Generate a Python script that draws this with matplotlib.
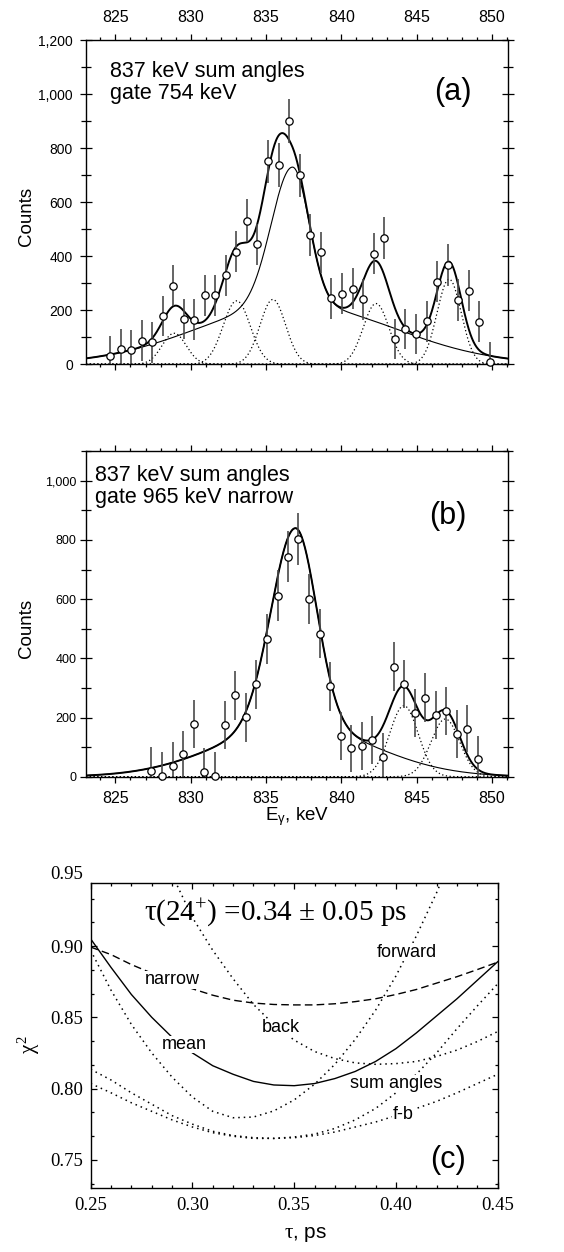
import numpy as np
import matplotlib
matplotlib.use("Agg")
import matplotlib.pyplot as plt
from matplotlib.ticker import MultipleLocator, FuncFormatter, FormatStrFormatter

plt.rcParams['font.family'] = ['Liberation Sans', 'DejaVu Sans']
plt.rcParams['mathtext.fontset'] = 'custom'
plt.rcParams['mathtext.rm'] = 'Liberation Serif'
plt.rcParams['mathtext.it'] = 'Liberation Serif'
plt.rcParams['mathtext.sf'] = 'Liberation Sans'
SERIF = ['Liberation Serif', 'DejaVu Serif']

# ---- (a) 837 keV sum angles, gate 754 keV
e_a = [824.65, 825.35, 826.04, 826.74, 827.44, 828.14, 828.84, 829.54, 830.23, 830.94,
       831.64, 832.34, 833.03, 833.72, 834.43, 835.12, 835.84, 836.53, 837.23, 837.93,
       838.63, 839.34, 840.04, 840.74, 841.44, 842.14, 842.85, 843.55, 844.25, 844.95,
       845.66, 846.36, 847.06, 847.76, 848.46, 849.16, 849.86]
cnt_a = [30, 57, 54, 88, 81, 178, 291, 167, 165, 255, 256, 329, 417, 532, 444, 751, 738,
         900, 700, 478, 414, 245, 262, 280, 241, 410, 469, 94, 129, 112, 159, 305, 367,
         238, 272, 158, 10]
err_a = [73, 74, 74, 75, 75, 75, 76, 75, 75, 76, 76, 76, 77, 78, 77, 80, 80, 81, 80, 78,
         77, 76, 76, 76, 76, 77, 78, 74, 74, 74, 75, 76, 77, 76, 76, 75, 72]
core_a = [836.75, 510, 1.4, 1.1]      # centre, height, sigma low side, sigma high side
broad_a = [837.0, 220, 6.5]           # centre, height, sigma
pk_a_pos = [828.9, 833.05, 835.45, 842.3, 847.15]
pk_a_amp = [115, 235, 240, 225, 315]
pk_a_sig = [0.8, 0.9, 0.85, 0.85, 0.8]

# ---- (b) 837 keV sum angles, gate 965 keV narrow
e_b = [827.39, 828.09, 828.80, 829.50, 830.21, 830.91, 831.62, 832.28, 832.97, 833.67,
       834.36, 835.06, 835.76, 836.46, 837.15, 837.86, 838.56, 839.27, 839.96, 840.66,
       841.36, 842.06, 842.77, 843.46, 844.16, 844.86, 845.56, 846.26, 846.96, 847.66,
       848.36, 849.04]
cnt_b = [19, 3, 36, 76, 179, 17, 3, 175, 276, 201, 312, 466, 612, 744, 804, 601, 484, 306,
         138, 96, 104, 123, 68, 372, 313, 215, 267, 210, 222, 144, 163, 59]
err_b = [80, 79, 80, 80, 82, 80, 79, 82, 83, 82, 83, 84, 85, 86, 87, 85, 84, 83, 81, 80,
         80, 81, 80, 83, 82, 81, 82, 81, 81, 80, 80, 79]
core_b = [836.95, 668, 1.6, 1.4]
broad_b = [836.95, 172, 5.1]
pk_b_pos = [844.15, 846.9]
pk_b_amp = [240, 195]
pk_b_sig = [0.95, 0.95]

# ---- (c) chi^2 versus tau
tau = [0.25, 0.26, 0.27, 0.28, 0.29, 0.30, 0.31, 0.32, 0.33, 0.34, 0.35,
       0.36, 0.37, 0.38, 0.39, 0.40, 0.41, 0.42, 0.43, 0.44, 0.45]
chi_mean = [0.905, 0.885, 0.866, 0.850, 0.836, 0.825, 0.816, 0.810, 0.805, 0.8025, 0.802,
            0.8035, 0.807, 0.812, 0.819, 0.828, 0.839, 0.851, 0.863, 0.876, 0.889]
chi_narrow = [0.8993, 0.894, 0.887, 0.881, 0.875, 0.870, 0.8655, 0.862, 0.860, 0.859, 0.8587,
              0.8587, 0.8595, 0.861, 0.863, 0.866, 0.8695, 0.874, 0.8785, 0.8835, 0.8887]
chi_sum = [0.8135, 0.806, 0.797, 0.789, 0.781, 0.775, 0.770, 0.767, 0.7655, 0.765, 0.766,
           0.768, 0.772, 0.778, 0.786, 0.797, 0.810, 0.825, 0.842, 0.858, 0.8735]
chi_fb = [0.8035, 0.797, 0.790, 0.784, 0.778, 0.773, 0.769, 0.7665, 0.765, 0.765, 0.7655,
          0.767, 0.7695, 0.773, 0.7765, 0.781, 0.786, 0.791, 0.797, 0.8035, 0.810]
tau_fwd = [0.25, 0.26, 0.27, 0.28, 0.29, 0.30, 0.31, 0.32, 0.33, 0.34, 0.35,
           0.36, 0.37, 0.38, 0.39, 0.40, 0.41, 0.42, 0.43]
chi_fwd = [0.897, 0.869, 0.845, 0.825, 0.808, 0.794, 0.784, 0.7795, 0.780, 0.7843, 0.792,
           0.803, 0.817, 0.8345, 0.855, 0.879, 0.907, 0.9375, 0.9715]
tau_back = [0.28, 0.29, 0.30, 0.31, 0.32, 0.33, 0.34, 0.35, 0.36,
            0.37, 0.38, 0.39, 0.40, 0.41, 0.42, 0.43, 0.44, 0.45]
chi_back = [0.985, 0.950, 0.920, 0.897, 0.877, 0.859, 0.845, 0.834, 0.826,
            0.821, 0.818, 0.817, 0.8175, 0.819, 0.8225, 0.827, 0.833, 0.840]


def gauss(x, c, h, s):
    return h * np.exp(-0.5 * ((x - c) / s) ** 2)


def main_line(x, core, broad):
    c, h, sl, sr = core
    s = np.where(x < c, sl, sr)
    return h * np.exp(-0.5 * ((x - c) / s) ** 2) + gauss(x, *broad)


def spectrum(ax, e, cnt, err, core, broad, pos, amp, sig):
    x = np.linspace(823.05, 851.05, 800)
    base = main_line(x, core, broad)
    comps = [gauss(x, c, h, s) for c, h, s in zip(pos, amp, sig)]
    total = base + np.sum(comps, axis=0)
    for comp in comps:
        ax.plot(x, comp, color='k', lw=0.9, ls=(0, (1, 2)))
    ax.plot(x, base, color='k', lw=0.8)
    ax.plot(x, total, color='k', lw=1.4)
    ax.errorbar(e, cnt, yerr=err, fmt='none', ecolor='#4a4a4a', elinewidth=1.2, capsize=0)
    ax.plot(e, cnt, 'o', ms=5.3, mfc='white', mec='k', mew=0.9, clip_on=False, zorder=5)
    ax.set_xlim(823.05, 851.05)
    ax.xaxis.set_major_locator(MultipleLocator(5))
    ax.xaxis.set_minor_locator(MultipleLocator(1))
    ax.yaxis.set_major_locator(MultipleLocator(200))
    ax.yaxis.set_minor_locator(MultipleLocator(100))
    ax.yaxis.set_major_formatter(FuncFormatter(lambda v, p: f'{v:,.0f}'))
    ax.tick_params(axis='x', which='both', direction='out', top=True, bottom=True, width=0.9)
    ax.tick_params(axis='x', which='major', length=4, labelsize=11.5)
    ax.tick_params(axis='x', which='minor', length=2.5)
    ax.tick_params(axis='y', which='both', direction='inout', left=True, right=True, width=0.9)
    ax.tick_params(axis='y', which='major', length=9)
    ax.tick_params(axis='y', which='minor', length=7)
    for sp in ax.spines.values():
        sp.set_linewidth(1.0)


fig = plt.figure(figsize=(5.64, 12.52), dpi=100)

# (a)
ax1 = fig.add_axes([0.1525, 0.709, 0.748, 0.259])
spectrum(ax1, e_a, cnt_a, err_a, core_a, broad_a, pk_a_pos, pk_a_amp, pk_a_sig)
ax1.set_ylim(0, 1200)
ax1.tick_params(axis='x', labeltop=True, labelbottom=False, pad=7)
ax1.tick_params(axis='y', labelsize=10, pad=5)
ax1.set_ylabel('Counts', fontsize=13.5)
ax1.yaxis.set_label_coords(-0.12, 0.455)
ax1.text(0.057, 0.936, '837 keV sum angles\ngate 754 keV', transform=ax1.transAxes,
         va='top', ha='left', fontsize=15.5, linespacing=1.05)
ax1.text(0.87, 0.84, '(a)', transform=ax1.transAxes, ha='center', va='center', fontsize=22)

# (b)
ax2 = fig.add_axes([0.1525, 0.3796, 0.748, 0.260])
spectrum(ax2, e_b, cnt_b, err_b, core_b, broad_b, pk_b_pos, pk_b_amp, pk_b_sig)
ax2.set_ylim(0, 1100)
ax2.tick_params(axis='x', labeltop=False, labelbottom=True, pad=6)
ax2.tick_params(axis='y', labelsize=9, pad=2.5)
ax2.set_ylabel('Counts', fontsize=13.5)
ax2.yaxis.set_label_coords(-0.12, 0.456)
ax2.set_xlabel(r'E$_{\mathsf{\gamma}}$, keV', fontsize=13.5)
ax2.xaxis.set_label_coords(0.5, -0.088)
ax2.text(0.021, 0.957, '837 keV sum angles\ngate 965 keV narrow', transform=ax2.transAxes,
         va='top', ha='left', fontsize=15.5, linespacing=1.05)
ax2.text(0.857, 0.80, '(b)', transform=ax2.transAxes, ha='center', va='center', fontsize=22)

# (c)
ax3 = fig.add_axes([0.1608, 0.0509, 0.7216, 0.2441])
dots = (0, (1, 2.6))
ax3.plot(tau, chi_mean, color='k', lw=1.0)
ax3.plot(tau, chi_narrow, color='k', lw=1.0, ls=(0, (5.5, 3)))
ax3.plot(tau_fwd, chi_fwd, color='k', lw=1.1, ls=dots)
ax3.plot(tau_back, chi_back, color='k', lw=1.1, ls=dots)
ax3.plot(tau, chi_sum, color='k', lw=1.1, ls=dots)
ax3.plot(tau, chi_fb, color='k', lw=1.1, ls=dots)
ax3.set_xlim(0.25, 0.45)
ax3.set_ylim(0.73, 0.9445)
ax3.set_yticks([0.75, 0.80, 0.85, 0.90])
ax3.xaxis.set_major_locator(MultipleLocator(0.05))
ax3.xaxis.set_minor_locator(MultipleLocator(0.01))
ax3.yaxis.set_minor_locator(MultipleLocator(0.05 / 3))
ax3.xaxis.set_major_formatter(FormatStrFormatter('%.2f'))
ax3.yaxis.set_major_formatter(FormatStrFormatter('%.2f'))
ax3.tick_params(which='both', direction='in', top=True, right=True, width=0.9,
                labelsize=13.5, labelfontfamily=SERIF)
ax3.tick_params(which='major', length=4.5)
ax3.tick_params(which='minor', length=2.5)
ax3.tick_params(axis='x', pad=6)
ax3.tick_params(axis='y', pad=5.5)
ax3.annotate('0.95', xy=(0, 0.95), xycoords=ax3.get_yaxis_transform(), xytext=(-5.5, 0),
             textcoords='offset points', ha='right', va='center', fontsize=13.5,
             family=SERIF, annotation_clip=False)
for sp in ax3.spines.values():
    sp.set_linewidth(1.0)
ax3.set_xlabel(r'$\tau$, ps', fontsize=15)
ax3.xaxis.set_label_coords(0.527, -0.12)
ax3.set_ylabel(r'$\chi^2$', fontsize=15)
ax3.yaxis.set_label_coords(-0.12, 0.47)
ax3.text(0.341, 0.918, r'τ(24$^{+}$) =0.34 ± 0.05 ps', ha='center', va='baseline',
         fontsize=21, family=SERIF)
box = dict(fc='white', ec='none', pad=0.3)
for s, x, y in [('forward', 0.4055, 0.8958), ('narrow', 0.290, 0.8763),
                ('back', 0.3436, 0.8425), ('mean', 0.296, 0.8309),
                ('sum angles', 0.400, 0.8035), ('f-b', 0.4035, 0.7821)]:
    ax3.text(x, y, s, ha='center', va='center', fontsize=13, bbox=box, zorder=4)
ax3.text(0.877, 0.093, '(c)', transform=ax3.transAxes, ha='center', va='center', fontsize=22)

fig.savefig('out.png', dpi=100)
